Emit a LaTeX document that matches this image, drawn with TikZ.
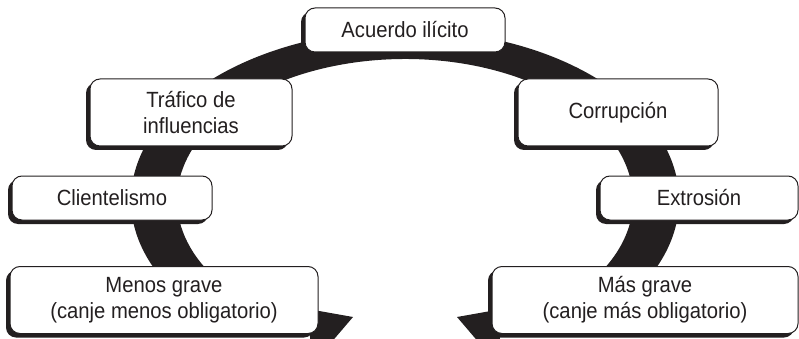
\documentclass[tikz,border=0pt]{standalone}
\usepackage{fontspec}
\setmainfont{Liberation Sans}[FakeStretch=0.92]
\usepackage{tikz}
\usetikzlibrary{shadows}
\definecolor{ink}{HTML}{231F20}

\begin{document}
\begin{tikzpicture}[
                x=1pt, y=-1pt,
                block/.style={rectangle, draw=ink, fill=white, text=ink, line width=1pt,
                  rounded corners=10pt, minimum height=44pt, inner sep=2pt, align=center,
                  font=\fontsize{22}{26}\selectfont,
                  drop shadow={shadow xshift=-4pt, shadow yshift=-4pt, fill=ink, opacity=1}},
                tall/.style={minimum height=67pt},
                band/.style={fill=ink}
            ]
                \useasboundingbox (0,0) rectangle (799,339);

                % Curved band
                \fill[band] (405,200) ++(145:274 and 170)
                    arc[start angle=145, end angle=395, x radius=274, y radius=170]
                    .. controls (600,322) and (540,333) .. (500,332)
                    -- (500,305)
                    .. controls (540,305) and (575,293) .. (591.77,280.87)
                    arc[start angle=35, end angle=-215, x radius=228, y radius=141]
                    .. controls (235,295) and (270,305) .. (310,305)
                    -- (310,332)
                    .. controls (270,333) and (210,325) .. cycle;

                % Arrow heads
                \coordinate (tipL) at (353,317);
                \coordinate (tipR) at (457,317);
                \fill[band] (308,309) -- (tipL) -- (312,365) -- cycle;
                \fill[band] (502,309) -- (tipR) -- (498,365) -- cycle;

                % Boxes
                \node[block, minimum width=200pt] (acuerdo) at (405,30) {Acuerdo ilícito};
                \node[block, tall, minimum width=202pt] (trafico) at (191,112.5) {Tráfico de\\influencias};
                \node[block, tall, minimum width=200pt] (corrupcion) at (618,112.5) {Corrupción};
                \node[block, minimum width=200pt] (clientelismo) at (112,198) {Clientelismo};
                \node[block, minimum width=198pt] (extrosion) at (699,198) {Extrosión};
                \node[block, tall, minimum width=308pt] (menos) at (164,300) {Menos grave\\(canje menos obligatorio)};
                \node[block, tall, minimum width=306pt] (mas) at (645,300) {Más grave\\(canje más obligatorio)};
            \end{tikzpicture}
\end{document}
